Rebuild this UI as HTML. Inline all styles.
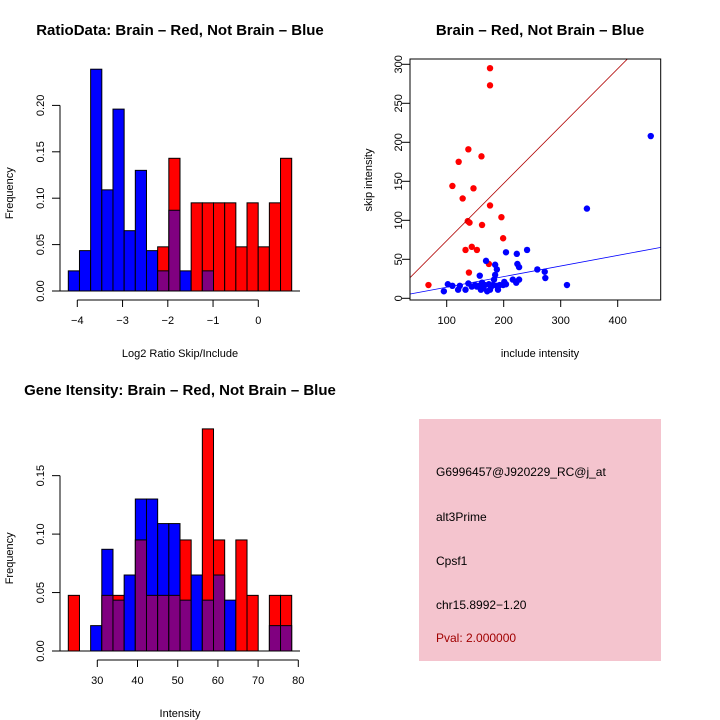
<!DOCTYPE html>
<html><head><meta charset="utf-8"><style>
body{margin:0;background:#fff}
svg{display:block;font-family:"Liberation Sans",sans-serif}
</style></head><body>
<svg id="s" width="720" height="720" viewBox="0 0 720 720">
<rect width="720" height="720" fill="#fff"/>
<g id="g1"></g>
<g id="g2"></g>
<g id="g3"></g>
<g>
<rect x="419" y="419" width="242" height="242" fill="#f4c4ce"/>
<text x="436" y="476" font-size="12">G6996457@J920229_RC@j_at</text>
<text x="436" y="521" font-size="12">alt3Prime</text>
<text x="436" y="565" font-size="12">Cpsf1</text>
<text x="436" y="609" font-size="12">chr15.8992−1.20</text>
<text x="436" y="642" font-size="12" fill="#a00000">Pval: 2.000000</text>
</g>
</svg>
<script>
// Histogram 1 data
const h1Red=[0,0,0,0,0,0,0,0,0.0476,0.143,0,0.095,0.095,0.095,0.095,0.0476,0.095,0.0476,0.095,0.143];
const h1Blue=[0.0217,0.0435,0.239,0.109,0.196,0.065,0.130,0.0435,0.0217,0.087,0.0217,0,0.0217,0,0,0,0,0,0,0];
const h1XTicks=[-4,-3,-2,-1,0];
const h1YTicks=[0,0.05,0.10,0.15,0.20];
// Histogram 2 data
const h2Red=[0.0476,0,0,0.0476,0.0476,0,0.095,0.0476,0.0476,0.0476,0.095,0,0.190,0.095,0,0.095,0.0476,0,0.0476,0.0476];
const h2Blue=[0,0,0.0217,0.087,0.0435,0.065,0.130,0.130,0.109,0.109,0.0435,0.065,0.0435,0.065,0.0435,0,0,0,0.0217,0.0217];
const h2XTicks=[30,40,50,60,70,80];
const h2YTicks=[0,0.05,0.10,0.15];
// Scatter data
const redX=[68,176,176,138,161,121,110,147,128,176,196,137,140,162,199,144,133,153,139,174];
const redY=[17,295,273,191,182,175,144,141,128,119,104,99,97,94,77,66,62,62,33,44];
const blueX=[95,102,110,120,123,133,138,144,150,157,158,160,164,167,162,169,185,188,185,183,181,188,193,199,204,204,223,241,224,227,216,222,227,259,272,273,311,346,458,176,171,190,153,174,178,201];
const blueY=[9,18,16,11,16,11,19,15,17,16,29,11,13,17,20,48,43,37,30,24,17,16,17,17,18,59,57,62,44,40,24,20,24,37,34,26,17,115,208,11,9,11,15,18,15,21];
const sXTicks=[100,200,300,400];
const sYTicks=[0,50,100,150,200,250,300];
const redLine=[0.3,0.735];
const blueLine=[0.6,0.136];

const NS='http://www.w3.org/2000/svg';
function el(p,t,a){const e=document.createElementNS(NS,t);for(const k in a)e.setAttribute(k,a[k]);p.appendChild(e);return e;}
function txt(p,x,y,s,a){const e=el(p,'text',Object.assign({x:x,y:y,'font-size':11,'text-anchor':'middle'},a||{}));e.textContent=s;return e;}

function hist(g,red,blue,x0,binW,y0,pxPer,xt,xs,yt,yTickFmt,axisY,title,titleX,titleY,xlab,xlabY){
  const n=red.length;
  const sy=v=>y0-v*pxPer;
  for(let i=0;i<n;i++){
    const x=x0+i*binW,r=red[i],b=blue[i];
    const hi=Math.max(r,b),lo=Math.min(r,b);
    if(hi>0){
      const rc=el(g,'rect',{x:x,y:sy(hi),width:binW,height:hi*pxPer,fill:r>=b?'#ff0000':'#0000ff',stroke:'#000','stroke-width':1});
      
      
    }
    if(lo>0){
      const rc=el(g,'rect',{x:x,y:sy(lo),width:binW,height:lo*pxPer,fill:'#800080',stroke:'#000','stroke-width':1});
      
      
    }
  }
  el(g,'line',{x1:60,x2:300,y1:y0,y2:y0,stroke:'#000'});
  const ya=el(g,'g',{});
  
  
  el(ya,'line',{x1:60,x2:60,y1:sy(yt[0]),y2:sy(yt[yt.length-1]),stroke:'#000'});
  yt.forEach(v=>{el(ya,'line',{x1:52,x2:60,y1:sy(v),y2:sy(v),stroke:'#000'});
    txt(ya,0,0,v.toFixed(2),{transform:`translate(44,${sy(v)}) rotate(-90)`});});
  const xa=el(g,'g',{});
  
  
  el(xa,'line',{x1:xs(xt[0]),x2:xs(xt[xt.length-1]),y1:axisY,y2:axisY,stroke:'#000'});
  xt.forEach(v=>{el(xa,'line',{x1:xs(v),x2:xs(v),y1:axisY,y2:axisY+7,stroke:'#000'});
    txt(xa,xs(v),axisY+24,v<0?'−'+Math.abs(v):String(v));});
  const t=txt(g,titleX,titleY,title,{'font-size':15,'font-weight':'bold'});
  
  
  const xl=txt(g,180,xlabY,xlab);
  
  
  const yl=txt(g,0,0,'Frequency',{transform:`translate(13,${(y0+sy(yt[yt.length-1]))/2-5}) rotate(-90)`});
  
  
}
const g1=document.getElementById('g1');
hist(g1,h1Red,h1Blue,68.3,11.17,291,928,h1XTicks,v=>258.3+v*45.25,h1YTicks,null,300,
  'RatioData: Brain – Red, Not Brain – Blue',180,35,'Log2 Ratio Skip/Include',357);
const g3=document.getElementById('g3');
hist(g3,h2Red,h2Blue,68.3,11.17,651,1169,h2XTicks,v=>97.3+(v-30)*4.02,h2YTicks,null,660,
  'Gene Itensity: Brain – Red, Not Brain – Blue',180,395,'Intensity',717);

const g2=document.getElementById('g2');
const sx=v=>446.7+(v-100)*0.57, sy=v=>298.3-v*0.78;
const L=410,R=660.7,T=59,B=300;
const cp=el(g2,'clipPath',{id:'cp'});
el(cp,'rect',{x:L,y:T,width:R-L,height:B-T});
const pts=el(g2,'g',{'clip-path':'url(#cp)'});
redX.forEach((x,i)=>{const c=el(pts,'circle',{cx:sx(x),cy:sy(redY[i]),r:3.2,fill:'#ff0000'});
  
  });
blueX.forEach((x,i)=>{const c=el(pts,'circle',{cx:sx(x),cy:sy(blueY[i]),r:3.2,fill:'#0000ff'});
  
  });
const xa0=36,xa1=476;
[[redLine,'#b00000','fit-line-brain'],[blueLine,'#0000ff','fit-line-not-brain']].forEach(([ln,c,n])=>{
  const l=el(pts,'line',{x1:sx(xa0),y1:sy(ln[0]+ln[1]*xa0),x2:sx(xa1),y2:sy(ln[0]+ln[1]*xa1),stroke:c,'stroke-width':0.8});
  
  
});
el(g2,'rect',{x:L,y:T,width:R-L,height:B-T,fill:'none',stroke:'#000'});
sYTicks.forEach(v=>{el(g2,'line',{x1:L-8,x2:L,y1:sy(v),y2:sy(v),stroke:'#000'});
  txt(g2,0,0,String(v),{transform:`translate(402,${sy(v)}) rotate(-90)`});});
sXTicks.forEach(v=>{el(g2,'line',{x1:sx(v),x2:sx(v),y1:B,y2:B+7,stroke:'#000'});
  txt(g2,sx(v),B+24,String(v));});
const st=txt(g2,540,35,'Brain – Red, Not Brain – Blue',{'font-size':15,'font-weight':'bold'});


const sxl=txt(g2,540,357,'include intensity');


const syl=txt(g2,0,0,'skip intensity',{transform:'translate(372,180) rotate(-90)'});


</script>
</body></html>
